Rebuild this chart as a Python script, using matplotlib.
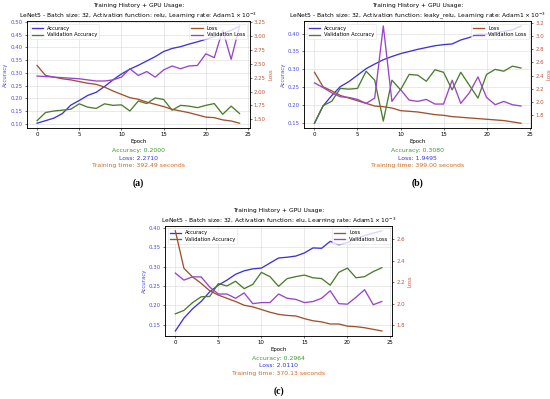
import numpy as np
import matplotlib
matplotlib.use("Agg")
import matplotlib.pyplot as plt

epochs = list(range(25))

# (a) relu
acc_a = [0.103, 0.113, 0.123, 0.141, 0.174, 0.192, 0.212, 0.224, 0.247, 0.273,
         0.296, 0.315, 0.330, 0.347, 0.364, 0.384, 0.396, 0.403, 0.413, 0.422,
         0.432, 0.442, 0.455, 0.467, 0.484]
val_acc_a = [0.113, 0.145, 0.151, 0.154, 0.158, 0.179, 0.166, 0.161, 0.179, 0.173,
             0.175, 0.151, 0.190, 0.180, 0.202, 0.196, 0.154, 0.173, 0.170, 0.164,
             0.173, 0.180, 0.138, 0.170, 0.141]
loss_a = [2.47, 2.29, 2.26, 2.23, 2.21, 2.18, 2.15, 2.13, 2.08, 2.01,
          1.95, 1.89, 1.86, 1.81, 1.77, 1.73, 1.68, 1.65, 1.62, 1.58,
          1.54, 1.53, 1.49, 1.47, 1.43]
val_loss_a = [2.28, 2.27, 2.26, 2.25, 2.24, 2.23, 2.21, 2.19, 2.19, 2.21,
              2.26, 2.41, 2.29, 2.36, 2.26, 2.39, 2.46, 2.41, 2.46, 2.47,
              2.68, 2.61, 3.11, 2.58, 3.18]

# (b) leaky_relu
acc_b = [0.150, 0.198, 0.227, 0.252, 0.266, 0.284, 0.302, 0.315, 0.327, 0.336,
         0.344, 0.350, 0.356, 0.361, 0.366, 0.369, 0.371, 0.382, 0.389, 0.398,
         0.398, 0.402, 0.406, 0.410, 0.421]
val_acc_b = [0.150, 0.199, 0.211, 0.247, 0.245, 0.247, 0.295, 0.270, 0.156, 0.270,
             0.243, 0.286, 0.284, 0.267, 0.299, 0.292, 0.243, 0.292, 0.256, 0.220,
             0.286, 0.300, 0.295, 0.309, 0.304]
loss_b = [2.45, 2.23, 2.17, 2.10, 2.06, 2.02, 1.98, 1.94, 1.93, 1.91,
          1.87, 1.86, 1.85, 1.83, 1.81, 1.80, 1.78, 1.77, 1.76, 1.75,
          1.74, 1.73, 1.72, 1.70, 1.68]
val_loss_b = [2.29, 2.22, 2.14, 2.08, 2.07, 2.04, 1.98, 2.06, 3.15, 2.01,
              2.19, 2.03, 2.01, 2.04, 1.97, 1.97, 2.33, 1.98, 2.14, 2.38,
              2.07, 1.96, 2.01, 1.96, 1.94]

# (c) elu
acc_c = [0.134, 0.167, 0.191, 0.210, 0.235, 0.252, 0.265, 0.280, 0.289, 0.294,
         0.296, 0.309, 0.322, 0.324, 0.327, 0.335, 0.348, 0.347, 0.365, 0.356,
         0.362, 0.372, 0.380, 0.386, 0.392]
val_acc_c = [0.178, 0.187, 0.207, 0.222, 0.223, 0.256, 0.250, 0.262, 0.243, 0.254,
             0.285, 0.274, 0.249, 0.269, 0.274, 0.278, 0.271, 0.269, 0.252, 0.285,
             0.296, 0.271, 0.274, 0.287, 0.297]
loss_c = [2.68, 2.33, 2.25, 2.19, 2.12, 2.08, 2.05, 2.02, 1.985, 1.97,
          1.945, 1.92, 1.90, 1.89, 1.885, 1.86, 1.84, 1.83, 1.81, 1.81,
          1.79, 1.785, 1.775, 1.76, 1.745]
val_loss_c = [2.285, 2.22, 2.25, 2.25, 2.155, 2.09, 2.09, 2.05, 2.10, 2.00,
              2.01, 2.01, 2.09, 2.05, 2.04, 2.01, 2.02, 2.05, 2.12, 2.00,
              1.995, 2.06, 2.13, 1.99, 2.02]

activations = ["relu", "leaky_relu", "elu"]
final_acc = ["0.2000", "0.3080", "0.2964"]
final_loss = ["2.2710", "1.9495", "2.0110"]
train_time = ["392.49", "399.00", "370.13"]
labels = ["(a)", "(b)", "(c)"]

C_ACC = "#3d33d6"
C_VACC = "#4c7d2c"
C_LOSS = "#a0522d"
C_VLOSS = "#9944cc"

FS = 3.9


def draw_panel(fig, rect, i, acc, val_acc, loss, val_loss):
    ax1 = fig.add_axes(rect)
    ax1.plot(epochs, acc, color=C_ACC, lw=0.95, label="Accuracy")
    ax1.plot(epochs, val_acc, color=C_VACC, lw=0.95, label="Validation Accuracy")
    ax1.set_xlabel("Epoch", fontsize=FS, labelpad=1.5)
    ax1.set_ylabel("Accuracy", color="#4a4af0", fontsize=FS, labelpad=1.5)
    ax1.tick_params(axis="y", labelcolor="#4a4af0")
    ax1.tick_params(labelsize=FS, length=1.5, width=0.4, pad=1.5)
    ax1.grid(True, color="#d8d8d8", lw=0.4)
    ax1.set_xticks([0, 5, 10, 15, 20, 25])

    ax2 = ax1.twinx()
    ax2.plot(epochs, loss, color=C_LOSS, lw=0.95, label="Loss")
    ax2.plot(epochs, val_loss, color=C_VLOSS, lw=0.95, label="Validation Loss")
    ax2.set_ylabel("Loss", color="#d05a48", fontsize=FS, labelpad=1.5)
    ax2.tick_params(axis="y", labelcolor="#b8583a", labelsize=FS, length=1.5,
                    width=0.4, pad=1.5)

    for a in (ax1, ax2):
        for s in a.spines.values():
            s.set_linewidth(0.5)

    leg_kw = dict(fontsize=3.7, handlelength=2.2, borderpad=0.4, labelspacing=0.3,
                  framealpha=0.8, edgecolor="#dddddd", fancybox=True)
    l1 = ax1.legend(loc="upper left", **leg_kw)
    l1.get_frame().set_linewidth(0.4)
    l2 = ax2.legend(loc="upper right", **leg_kw)
    l2.get_frame().set_linewidth(0.4)

    ax1.set_title("Training History + GPU Usage:\n"
                  f"LeNet5 - Batch size: 32, Activation function: {activations[i]}, "
                  r"Learning rate: Adam$1\times10^{-3}$",
                  fontsize=4.3, pad=2.5, linespacing=1.3)

    cx = rect[0] + rect[2] / 2
    yb = rect[1]
    fig.text(cx, yb - 0.057, f"Accuracy: {final_acc[i]}", color="#3c9a2c",
             fontsize=4.4, ha="center", va="center")
    fig.text(cx, yb - 0.075, f"Loss: {final_loss[i]}", color="#3535e0",
             fontsize=4.4, ha="center", va="center")
    fig.text(cx, yb - 0.094, f"Training time: {train_time[i]} seconds",
             color="#d2691e", fontsize=4.4, ha="center", va="center")
    fig.text(cx, yb - 0.138, labels[i], fontsize=7, fontweight="bold",
             family="Liberation Serif", ha="center", va="center")


fig = plt.figure(figsize=(5.5, 3.99), dpi=100)
draw_panel(fig, [0.049, 0.679, 0.405, 0.268], 0, acc_a, val_acc_a, loss_a, val_loss_a)
draw_panel(fig, [0.553, 0.679, 0.413, 0.268], 1, acc_b, val_acc_b, loss_b, val_loss_b)
draw_panel(fig, [0.300, 0.158, 0.413, 0.276], 2, acc_c, val_acc_c, loss_c, val_loss_c)

fig.savefig("out.png", dpi=100)
